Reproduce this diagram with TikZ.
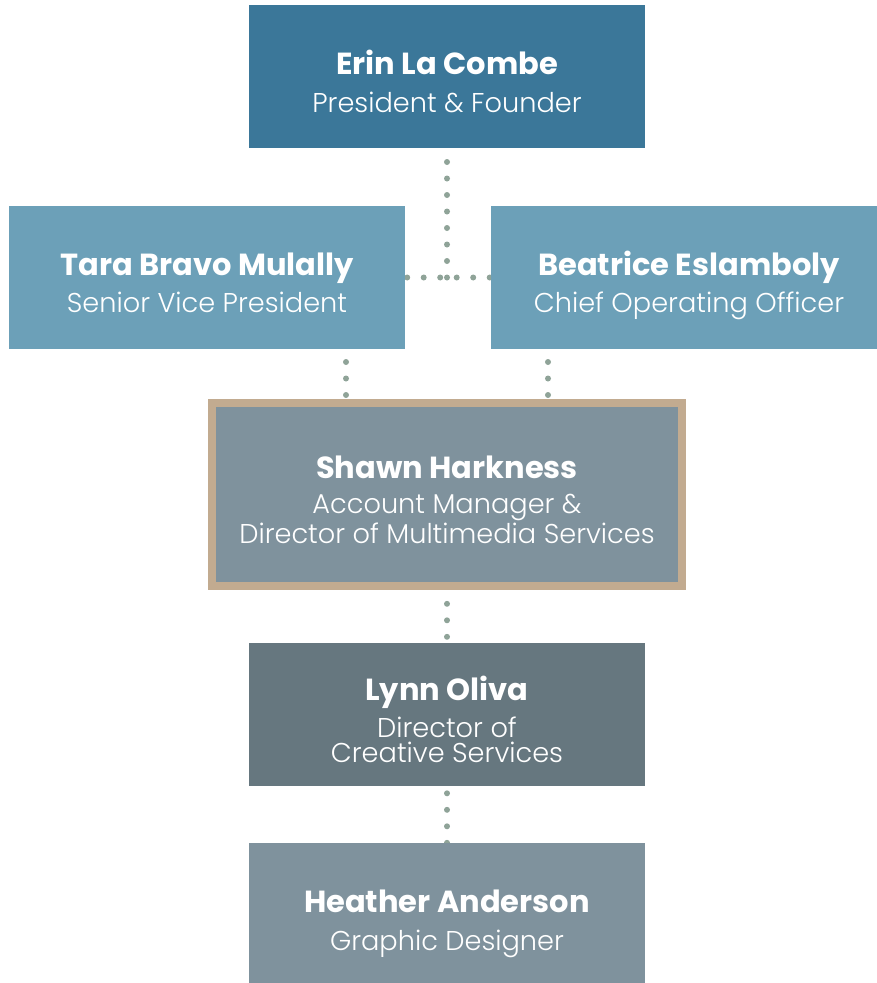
\documentclass[tikz,border=0pt]{standalone}
\usepackage{fontspec}
\setmainfont{Poppins}[UprightFont=* Light, BoldFont=* Bold]
\usetikzlibrary{backgrounds}

\definecolor{topblue}{RGB}{59,119,153}
\definecolor{vpblue}{RGB}{108,160,184}
\definecolor{slate}{RGB}{127,146,157}
\definecolor{darkslate}{RGB}{102,119,127}
\definecolor{tan}{RGB}{194,171,144}
\definecolor{dotgreen}{RGB}{143,163,152}

% name line: tall rule on top, so every box sets its text the same way
\newcommand{\who}[1]{\rule{0pt}{43pt}{\fontsize{30.5}{38}\selectfont\bfseries #1}}
\newcommand{\tail}{\rule[-10pt]{0pt}{10pt}}

\begin{document}
\begin{tikzpicture}[x=1pt,y=-1pt,
  box/.style={rectangle,minimum width=396pt,minimum height=143pt,inner sep=0pt,
    text=white,align=center,font=\fontsize{27.2}{38}\selectfont},
  link/.style={draw=dotgreen,line width=6pt,line cap=round,
    dash pattern=on 0pt off 16.5pt}]
\useasboundingbox (0,0) rectangle (877,983);

\node[box,fill=topblue] (erin) at (447,76.5) {\who{Erin La Combe}\\President \& Founder\tail};
\node[box,fill=vpblue] (tara) at (207,277.5) {\who{Tara Bravo Mulally}\\[-1pt]Senior Vice President\tail};
\node[box,fill=vpblue] (beatrice) at (689,277.5) {\who{Beatrice Eslamboly}\\[-1pt]Chief Operating Officer\tail};
\node[box,fill=slate,draw=tan,line width=8pt,minimum width=470pt,minimum height=183pt] (shawn) at (447,494.5)
  {\who{Shawn Harkness}\\[-3pt]Account Manager \&\\[-8pt]Director of Multimedia Services\tail};
\node[box,fill=darkslate] (lynn) at (447,714.5) {\who{Lynn Oliva}\\[-1pt]Director of\\[-13pt]Creative Services\tail};
\node[box,fill=slate] (heather) at (447,914.5) {\who{Heather Anderson}\\Graphic Designer\tail};

\begin{scope}[on background layer]
\draw[link] (erin.south |- tara.east) -- (erin.south);
\draw[link,dash phase=14.5pt] (tara.east) -- (beatrice.west);
\draw[link,dash phase=12.5pt] ([xshift=-101pt]shawn.north) -- ([xshift=-101pt]shawn.north |- tara.south);
\draw[link,dash phase=12.5pt] ([xshift=101pt]shawn.north) -- ([xshift=101pt]shawn.north |- beatrice.south);
\draw[link,dash phase=10.5pt] (lynn) -- (shawn);
\draw[link] (heather) -- (lynn);
\end{scope}

\end{tikzpicture}
\end{document}
